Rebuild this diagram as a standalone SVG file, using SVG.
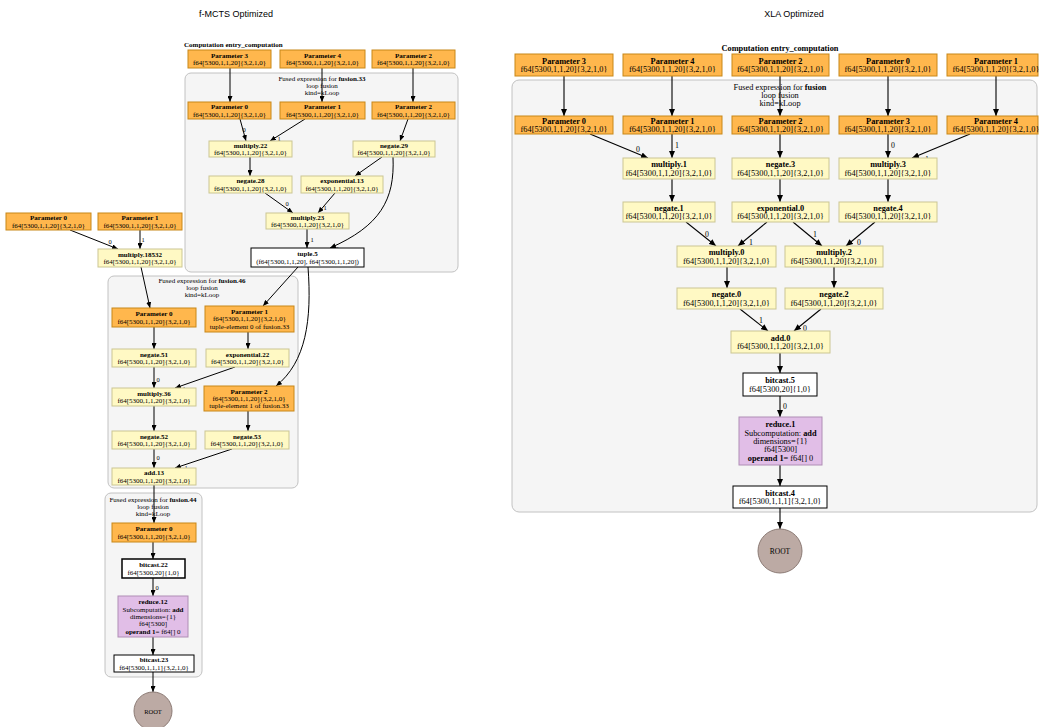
<svg xmlns="http://www.w3.org/2000/svg" width="1039" height="727" viewBox="0 0 1039 727">
<style>
.p{fill:#ffb74d;stroke:#c88719;stroke-width:1}
.y{fill:#fff9c4;stroke:#cbc693;stroke-width:1}
.w{fill:#fff;stroke:#000;stroke-width:1}
.wb{fill:#fff;stroke:#000;stroke-width:1.5}
.r{fill:#e1bee7;stroke:#af8eb5;stroke-width:1}
.rt{fill:#bcaaa4;stroke:#8c7b75;stroke-width:1}
.cl{fill:#f5f5f5;stroke:#c2c2c2;stroke-width:1}
.t{font-family:"Liberation Serif","Times New Roman",serif;font-size:7px;text-anchor:middle;fill:#000}
.T{font-family:"Liberation Serif","Times New Roman",serif;font-size:8.3px;text-anchor:middle;fill:#000}
.b{font-weight:bold}
.lab{font-family:"Liberation Serif","Times New Roman",serif;font-size:6.5px;text-anchor:middle;fill:#000}
.labR{font-family:"Liberation Serif","Times New Roman",serif;font-size:7.8px;text-anchor:middle;fill:#000}
.title{font-family:"Liberation Sans",Arial,sans-serif;font-size:9px;text-anchor:middle;fill:#000}
.e{stroke:#000;stroke-width:1;fill:none;marker-end:url(#a)}
.E{stroke:#000;stroke-width:1.1;fill:none;marker-end:url(#b)}
</style>
<defs>
<marker id="a" markerUnits="userSpaceOnUse" markerWidth="6" markerHeight="5" refX="6" refY="2.5" orient="auto"><path d="M0,0 L6,2.5 L0,5 z" fill="#000"/></marker>
<marker id="b" markerUnits="userSpaceOnUse" markerWidth="7" markerHeight="6" refX="7" refY="3" orient="auto"><path d="M0,0 L7,3 L0,6 z" fill="#000"/></marker>
</defs>
<rect width="1039" height="727" fill="#fff"/>
<text class="title" x="236" y="17">f-MCTS Optimized</text>
<text class="title" x="794" y="17">XLA Optimized</text>

<!-- ================= LEFT ================= -->
<g id="L_clusters">
<text class="t b" x="184" y="47" style="text-anchor:start">Computation entry_computation</text>
<g id="L_fusion33"><rect class="cl" x="185" y="73" width="273" height="199" rx="6"/>
<text class="t" x="322" y="81">Fused expression for <tspan class="b">fusion.33</tspan></text>
<text class="t" x="322" y="88">loop fusion</text>
<text class="t" x="322" y="95">kind=kLoop</text></g>
<g id="L_fusion46"><rect class="cl" x="108" y="276" width="190" height="212" rx="6"/>
<text class="t" x="202" y="283">Fused expression for <tspan class="b">fusion.46</tspan></text>
<text class="t" x="202" y="290">loop fusion</text>
<text class="t" x="202" y="297">kind=kLoop</text></g>
<g id="L_fusion44"><rect class="cl" x="105" y="493" width="97" height="184" rx="6"/>
<text class="t" x="153" y="502">Fused expression for <tspan class="b">fusion.44</tspan></text>
<text class="t" x="153" y="509">loop fusion</text>
<text class="t" x="153" y="516">kind=kLoop</text></g>
</g>

<g id="L_connectors">
<path class="e" d="M230,68 L230,102"/>
<path class="e" d="M322,68 L322,102"/>
<path class="e" d="M413,68 L413,102"/>
<path class="e" d="M240,119 L246,141"/><text class="lab" x="244" y="132">0</text>
<path class="e" d="M305,119 L270,141"/><text class="lab" x="279" y="141">1</text>
<path class="e" d="M408,119 L400,141"/>
<path class="e" d="M250,157 L250,176"/>
<path class="e" d="M382,157 L355,176"/>
<path class="e" d="M265,193 L293,213"/><text class="lab" x="287" y="206">0</text>
<path class="e" d="M335,193 L318,213"/><text class="lab" x="325" y="210">1</text>
<path class="e" d="M307,229 L307,248"/><text class="lab" x="312" y="242">1</text>
<path class="e" d="M393,157 C395,200 380,226 330,248"/><text class="lab" x="337" y="251">0</text>
<path class="e" d="M70,230 L118,249"/><text class="lab" x="110" y="244">0</text>
<path class="e" d="M140,230 L140,249"/><text class="lab" x="143" y="242">1</text>
<path class="e" d="M141,267 L150,308"/>
<path class="e" d="M298,267 L263,306"/>
<path class="e" d="M308,267 C312,320 306,362 276,386"/>
<path class="e" d="M154,327 L154,349"/>
<path class="e" d="M248,332 L248,349"/>
<path class="e" d="M154,367 L154,388"/><text class="lab" x="158" y="382">0</text>
<path class="e" d="M235,367 L175,388"/><text class="lab" x="184" y="391">1</text>
<path class="e" d="M248,411 L248,431"/>
<path class="e" d="M154,406 L154,431"/>
<path class="e" d="M154,449 L154,468"/><text class="lab" x="158" y="460">0</text>
<path class="e" d="M232,449 L175,468"/><text class="lab" x="186" y="470">1</text>
<path class="e" d="M154,485 L154,523"/>
<path class="e" d="M153,542 L153,559"/>
<path class="e" d="M153,578 L153,596"/><text class="lab" x="157" y="590">0</text>
<path class="e" d="M153,637 L153,655"/>
<path class="e" d="M153,672 L153,692"/>
</g>

<g id="L_top_param3"><rect class="p" x="188" y="50" width="83" height="18"/><text class="t b" x="229.5" y="57.8">Parameter 3</text><text class="t" x="229.5" y="65.1">f64[5300,1,1,20]{3,2,1,0}</text></g>
<g id="L_top_param4"><rect class="p" x="280" y="50" width="85" height="18"/><text class="t b" x="322.5" y="57.8">Parameter 4</text><text class="t" x="322.5" y="65.1">f64[5300,1,1,20]{3,2,1,0}</text></g>
<g id="L_top_param2"><rect class="p" x="372" y="50" width="83" height="18"/><text class="t b" x="413.5" y="57.8">Parameter 2</text><text class="t" x="413.5" y="65.1">f64[5300,1,1,20]{3,2,1,0}</text></g>

<g id="L_f33_param0"><rect class="p" x="188" y="102" width="83" height="17"/><text class="t b" x="229.5" y="109.2">Parameter 0</text><text class="t" x="229.5" y="116.6">f64[5300,1,1,20]{3,2,1,0}</text></g>
<g id="L_f33_param1"><rect class="p" x="280" y="102" width="85" height="17"/><text class="t b" x="322.5" y="109.2">Parameter 1</text><text class="t" x="322.5" y="116.6">f64[5300,1,1,20]{3,2,1,0}</text></g>
<g id="L_f33_param2"><rect class="p" x="372" y="102" width="83" height="17"/><text class="t b" x="413.5" y="109.2">Parameter 2</text><text class="t" x="413.5" y="116.6">f64[5300,1,1,20]{3,2,1,0}</text></g>
<g id="L_multiply22"><rect class="y" x="209" y="141" width="83" height="16"/><text class="t b" x="250.5" y="147.8">multiply.22</text><text class="t" x="250.5" y="155.1">f64[5300,1,1,20]{3,2,1,0}</text></g>
<g id="L_negate29"><rect class="y" x="353" y="141" width="82" height="16"/><text class="t b" x="394" y="147.8">negate.29</text><text class="t" x="394" y="155.1">f64[5300,1,1,20]{3,2,1,0}</text></g>
<g id="L_negate28"><rect class="y" x="209" y="176" width="83" height="17"/><text class="t b" x="250.5" y="183.2">negate.28</text><text class="t" x="250.5" y="190.6">f64[5300,1,1,20]{3,2,1,0}</text></g>
<g id="L_exponential13"><rect class="y" x="301" y="176" width="82" height="17"/><text class="t b" x="342" y="183.2">exponential.13</text><text class="t" x="342" y="190.6">f64[5300,1,1,20]{3,2,1,0}</text></g>
<g id="L_multiply23"><rect class="y" x="266" y="213" width="83" height="16"/><text class="t b" x="307.5" y="219.8">multiply.23</text><text class="t" x="307.5" y="227.1">f64[5300,1,1,20]{3,2,1,0}</text></g>
<g id="L_tuple5"><rect class="w" x="251" y="248" width="113" height="19"/><text class="t b" x="307.5" y="256.2">tuple.5</text><text class="t" x="307.5" y="263.6">(f64[5300,1,1,20], f64[5300,1,1,20])</text></g>

<g id="L_param0"><rect class="p" x="6" y="213" width="85" height="17"/><text class="t b" x="48.5" y="220.2">Parameter 0</text><text class="t" x="48.5" y="227.6">f64[5300,1,1,20]{3,2,1,0}</text></g>
<g id="L_param1"><rect class="p" x="98" y="213" width="84" height="17"/><text class="t b" x="140" y="220.2">Parameter 1</text><text class="t" x="140" y="227.6">f64[5300,1,1,20]{3,2,1,0}</text></g>
<g id="L_multiply18532"><rect class="y" x="98" y="249" width="84" height="18"/><text class="t b" x="140" y="256.8">multiply.18532</text><text class="t" x="140" y="264.1">f64[5300,1,1,20]{3,2,1,0}</text></g>

<g id="L_f46_param0"><rect class="p" x="112" y="308" width="84" height="19"/><text class="t b" x="154" y="316.2">Parameter 0</text><text class="t" x="154" y="323.6">f64[5300,1,1,20]{3,2,1,0}</text></g>
<g id="L_f46_param1"><rect class="p" x="205" y="306" width="89" height="26"/><text class="t b" x="249.5" y="314.1">Parameter 1</text><text class="t" x="249.5" y="321.4">f64[5300,1,1,20]{3,2,1,0}</text><text class="t" x="249.5" y="328.7">tuple-element 0 of fusion.33</text></g>
<g id="L_negate51"><rect class="y" x="112" y="349" width="84" height="18"/><text class="t b" x="154" y="356.8">negate.51</text><text class="t" x="154" y="364.1">f64[5300,1,1,20]{3,2,1,0}</text></g>
<g id="L_exponential22"><rect class="y" x="206" y="349" width="83" height="18"/><text class="t b" x="247.5" y="356.8">exponential.22</text><text class="t" x="247.5" y="364.1">f64[5300,1,1,20]{3,2,1,0}</text></g>
<g id="L_multiply36"><rect class="y" x="112" y="388" width="84" height="18"/><text class="t b" x="154" y="395.8">multiply.36</text><text class="t" x="154" y="403.1">f64[5300,1,1,20]{3,2,1,0}</text></g>
<g id="L_f46_param2"><rect class="p" x="204" y="386" width="90" height="25"/><text class="t b" x="249" y="393.6">Parameter 2</text><text class="t" x="249" y="400.9">f64[5300,1,1,20]{3,2,1,0}</text><text class="t" x="249" y="408.2">tuple-element 1 of fusion.33</text></g>
<g id="L_negate52"><rect class="y" x="112" y="431" width="84" height="18"/><text class="t b" x="154" y="438.8">negate.52</text><text class="t" x="154" y="446.1">f64[5300,1,1,20]{3,2,1,0}</text></g>
<g id="L_negate53"><rect class="y" x="205" y="431" width="84" height="18"/><text class="t b" x="247" y="438.8">negate.53</text><text class="t" x="247" y="446.1">f64[5300,1,1,20]{3,2,1,0}</text></g>
<g id="L_add13"><rect class="y" x="112" y="468" width="84" height="17"/><text class="t b" x="154" y="475.2">add.13</text><text class="t" x="154" y="482.6">f64[5300,1,1,20]{3,2,1,0}</text></g>

<g id="L_f44_param0"><rect class="p" x="112" y="523" width="84" height="19"/><text class="t b" x="154" y="531.2">Parameter 0</text><text class="t" x="154" y="538.6">f64[5300,1,1,20]{3,2,1,0}</text></g>
<g id="L_bitcast22"><rect class="wb" x="122" y="559" width="63" height="19"/><text class="t b" x="153.5" y="567.2">bitcast.22</text><text class="t" x="153.5" y="574.6">f64[5300,20]{1,0}</text></g>
<g id="L_reduce12"><rect class="r" x="118" y="596" width="70" height="41"/><text class="t b" x="153" y="604.3">reduce.12</text><text class="t" x="153" y="611.6">Subcomputation: <tspan class="b">add</tspan></text><text class="t" x="153" y="618.9">dimensions={1}</text><text class="t" x="153" y="626.2">f64[5300]</text><text class="t" x="153" y="633.5"><tspan class="b">operand 1</tspan>= f64[] 0</text></g>
<g id="L_bitcast23"><rect class="w" x="114" y="655" width="80" height="17"/><text class="t b" x="154" y="662.2">bitcast.23</text><text class="t" x="154" y="669.6">f64[5300,1,1,1]{3,2,1,0}</text></g>
<g id="L_root"><circle class="rt" cx="153" cy="711" r="19"/><text class="t" x="153" y="713.5" style="font-size:6.5px">ROOT</text></g>

<!-- ================= RIGHT ================= -->
<g id="R_clusters">
<text class="T b" x="780" y="51">Computation entry_computation</text>
<g id="R_fusion"><rect class="cl" x="512" y="80" width="525" height="432" rx="7"/>
<text class="T" x="780" y="89.5">Fused expression for <tspan class="b">fusion</tspan></text>
<text class="T" x="780" y="97.5">loop fusion</text>
<text class="T" x="780" y="105.5">kind=kLoop</text></g>
</g>

<g id="R_connectors">
<path class="E" d="M564,76 L564,116"/>
<path class="E" d="M672,76 L672,116"/>
<path class="E" d="M780,76 L780,116"/>
<path class="E" d="M888,76 L888,116"/>
<path class="E" d="M996,76 L996,116"/>
<path class="E" d="M590,134 L648,158"/><text class="labR" x="638" y="152">0</text>
<path class="E" d="M672,134 L672,158"/><text class="labR" x="677" y="148">1</text>
<path class="E" d="M780,134 L780,158"/>
<path class="E" d="M888,134 L888,158"/><text class="labR" x="893" y="148">0</text>
<path class="E" d="M970,134 L912,158"/><text class="labR" x="927" y="162">1</text>
<path class="E" d="M672,179 L672,202"/>
<path class="E" d="M780,179 L780,202"/>
<path class="E" d="M888,179 L888,202"/>
<path class="E" d="M686,222 L716,246"/><text class="labR" x="707" y="237">0</text>
<path class="E" d="M767,222 L738,246"/><text class="labR" x="751" y="245">1</text>
<path class="E" d="M793,222 L822,246"/><text class="labR" x="815" y="237">1</text>
<path class="E" d="M875,222 L846,246"/><text class="labR" x="859" y="245">0</text>
<path class="E" d="M727,267 L727,288"/>
<path class="E" d="M834,267 L834,288"/>
<path class="E" d="M740,309 L768,331"/><text class="labR" x="761" y="323">1</text>
<path class="E" d="M821,309 L794,331"/><text class="labR" x="805" y="331">0</text>
<path class="E" d="M780,353 L780,373"/>
<path class="E" d="M780,396 L780,417"/><text class="labR" x="785" y="409">0</text>
<path class="E" d="M780,465 L780,486"/>
<path class="E" d="M780,508 L780,529"/>
</g>

<g id="R_top_param3"><rect class="p" x="515" y="54" width="98" height="22"/><text class="T b" x="564" y="63.8">Parameter 3</text><text class="T" x="564" y="72.1">f64[5300,1,1,20]{3,2,1,0}</text></g>
<g id="R_top_param4"><rect class="p" x="623" y="54" width="99" height="22"/><text class="T b" x="672.5" y="63.8">Parameter 4</text><text class="T" x="672.5" y="72.1">f64[5300,1,1,20]{3,2,1,0}</text></g>
<g id="R_top_param2"><rect class="p" x="732" y="54" width="97" height="22"/><text class="T b" x="780.5" y="63.8">Parameter 2</text><text class="T" x="780.5" y="72.1">f64[5300,1,1,20]{3,2,1,0}</text></g>
<g id="R_top_param0"><rect class="p" x="839" y="54" width="98" height="22"/><text class="T b" x="888" y="63.8">Parameter 0</text><text class="T" x="888" y="72.1">f64[5300,1,1,20]{3,2,1,0}</text></g>
<g id="R_top_param1"><rect class="p" x="947" y="54" width="91" height="22"/><text class="T b" x="996" y="63.8">Parameter 1</text><text class="T" x="996" y="72.1">f64[5300,1,1,20]{3,2,1,0}</text></g>

<g id="R_param0"><rect class="p" x="515" y="116" width="98" height="18"/><text class="T b" x="564" y="123.8">Parameter 0</text><text class="T" x="564" y="132.1">f64[5300,1,1,20]{3,2,1,0}</text></g>
<g id="R_param1"><rect class="p" x="623" y="116" width="99" height="18"/><text class="T b" x="672.5" y="123.8">Parameter 1</text><text class="T" x="672.5" y="132.1">f64[5300,1,1,20]{3,2,1,0}</text></g>
<g id="R_param2"><rect class="p" x="732" y="116" width="97" height="18"/><text class="T b" x="780.5" y="123.8">Parameter 2</text><text class="T" x="780.5" y="132.1">f64[5300,1,1,20]{3,2,1,0}</text></g>
<g id="R_param3"><rect class="p" x="839" y="116" width="98" height="18"/><text class="T b" x="888" y="123.8">Parameter 3</text><text class="T" x="888" y="132.1">f64[5300,1,1,20]{3,2,1,0}</text></g>
<g id="R_param4"><rect class="p" x="947" y="116" width="91" height="18"/><text class="T b" x="996" y="123.8">Parameter 4</text><text class="T" x="996" y="132.1">f64[5300,1,1,20]{3,2,1,0}</text></g>

<g id="R_multiply1"><rect class="y" x="623" y="158" width="92" height="21"/><text class="T b" x="669" y="167.3">multiply.1</text><text class="T" x="669" y="175.6">f64[5300,1,1,20]{3,2,1,0}</text></g>
<g id="R_negate3"><rect class="y" x="732" y="158" width="97" height="21"/><text class="T b" x="780.5" y="167.3">negate.3</text><text class="T" x="780.5" y="175.6">f64[5300,1,1,20]{3,2,1,0}</text></g>
<g id="R_multiply3"><rect class="y" x="839" y="158" width="98" height="21"/><text class="T b" x="888" y="167.3">multiply.3</text><text class="T" x="888" y="175.6">f64[5300,1,1,20]{3,2,1,0}</text></g>
<g id="R_negate1"><rect class="y" x="623" y="202" width="92" height="20"/><text class="T b" x="669" y="210.8">negate.1</text><text class="T" x="669" y="219.1">f64[5300,1,1,20]{3,2,1,0}</text></g>
<g id="R_exponential0"><rect class="y" x="732" y="202" width="97" height="20"/><text class="T b" x="780.5" y="210.8">exponential.0</text><text class="T" x="780.5" y="219.1">f64[5300,1,1,20]{3,2,1,0}</text></g>
<g id="R_negate4"><rect class="y" x="839" y="202" width="98" height="20"/><text class="T b" x="888" y="210.8">negate.4</text><text class="T" x="888" y="219.1">f64[5300,1,1,20]{3,2,1,0}</text></g>
<g id="R_multiply0"><rect class="y" x="677" y="246" width="99" height="21"/><text class="T b" x="726.5" y="255.3">multiply.0</text><text class="T" x="726.5" y="263.6">f64[5300,1,1,20]{3,2,1,0}</text></g>
<g id="R_multiply2"><rect class="y" x="785" y="246" width="98" height="21"/><text class="T b" x="834" y="255.3">multiply.2</text><text class="T" x="834" y="263.6">f64[5300,1,1,20]{3,2,1,0}</text></g>
<g id="R_negate0"><rect class="y" x="677" y="288" width="99" height="21"/><text class="T b" x="726.5" y="297.3">negate.0</text><text class="T" x="726.5" y="305.6">f64[5300,1,1,20]{3,2,1,0}</text></g>
<g id="R_negate2"><rect class="y" x="785" y="288" width="98" height="21"/><text class="T b" x="834" y="297.3">negate.2</text><text class="T" x="834" y="305.6">f64[5300,1,1,20]{3,2,1,0}</text></g>
<g id="R_add0"><rect class="y" x="731" y="331" width="99" height="22"/><text class="T b" x="780.5" y="340.8">add.0</text><text class="T" x="780.5" y="349.1">f64[5300,1,1,20]{3,2,1,0}</text></g>
<g id="R_bitcast5"><rect class="w" x="743" y="373" width="74" height="23"/><text class="T b" x="780" y="383.3">bitcast.5</text><text class="T" x="780" y="391.6">f64[5300,20]{1,0}</text></g>
<g id="R_reduce1"><rect class="r" x="739" y="417" width="83" height="48"/><text class="T b" x="780.5" y="427.3">reduce.1</text><text class="T" x="780.5" y="435.6">Subcomputation: <tspan class="b">add</tspan></text><text class="T" x="780.5" y="443.9">dimensions={1}</text><text class="T" x="780.5" y="452.2">f64[5300]</text><text class="T" x="780.5" y="460.5"><tspan class="b">operand 1</tspan>= f64[] 0</text></g>
<g id="R_bitcast4"><rect class="w" x="733" y="486" width="94" height="22"/><text class="T b" x="780" y="495.8">bitcast.4</text><text class="T" x="780" y="504.1">f64[5300,1,1,1]{3,2,1,0}</text></g>
<g id="R_root"><circle class="rt" cx="780" cy="551" r="22"/><text class="T" x="780" y="554" style="font-size:7.5px">ROOT</text></g>
</svg>
